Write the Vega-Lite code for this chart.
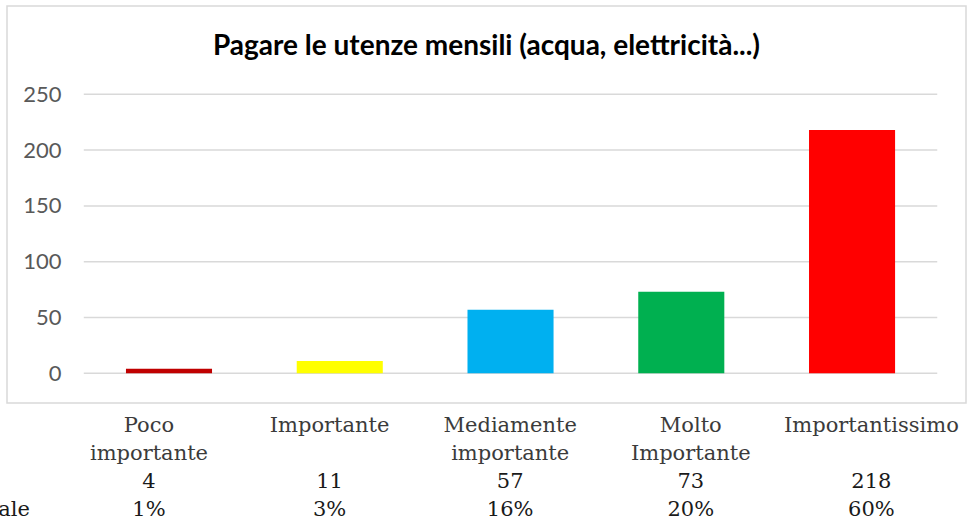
{
  "$schema": "https://vega.github.io/schema/vega-lite/v6.json",
  "autosize": {"type": "none"},
  "padding": {"left": 7, "top": 6, "right": 4, "bottom": 120},
  "width": 959,
  "height": 397,
  "background": "white",
  "config": {"view": {"stroke": "#d9d9d9", "strokeWidth": 1.5}},
  "title": {
    "text": "Pagare le utenze mensili (acqua, elettricità...)",
    "font": "Lato",
    "fontWeight": "bold",
    "fontSize": 28,
    "color": "#000000",
    "anchor": "middle",
    "baseline": "alphabetic",
    "offset": -77
  },
  "datasets": {
    "resp": [
      {"cat": "Poco importante", "n": 4, "pct": "1%"},
      {"cat": "Importante", "n": 11, "pct": "3%"},
      {"cat": "Mediamente importante", "n": 57, "pct": "16%"},
      {"cat": "Molto Importante", "n": 73, "pct": "20%"},
      {"cat": "Importantissimo", "n": 218, "pct": "60%"}
    ],
    "grid": [{"v": 0}, {"v": 50}, {"v": 100}, {"v": 150}, {"v": 200}, {"v": 250}],
    "header": [{"h": "Percentuale"}]
  },
  "data": {"name": "resp"},
  "resolve": {"scale": {"y": "independent", "x": "independent"}, "axis": {"y": "independent"}},
  "layer": [
    {
      "data": {"name": "grid"},
      "mark": {"type": "rule", "color": "#d9d9d9", "strokeWidth": 1.5},
      "encoding": {
        "x": {
          "datum": "Poco importante", "type": "nominal", "bandPosition": -0.49, "axis": null,
          "scale": {
            "type": "band",
            "domain": ["Poco importante", "Importante", "Mediamente importante", "Molto Importante", "Importantissimo"],
            "paddingInner": 0.496, "paddingOuter": 0.556, "align": 0.6265
          }
        },
        "x2": {"datum": "Importantissimo", "bandPosition": 1.49},
        "y": {"field": "v", "type": "quantitative", "scale": {"domain": [-26.6, 329.1], "nice": false, "zero": false}, "axis": null}
      }
    },
    {
      "mark": {"type": "bar"},
      "encoding": {
        "x": {
          "field": "cat", "type": "nominal", "axis": null,
          "scale": {
            "type": "band",
            "domain": ["Poco importante", "Importante", "Mediamente importante", "Molto Importante", "Importantissimo"],
            "paddingInner": 0.496, "paddingOuter": 0.556, "align": 0.6265
          }
        },
        "y": {
          "field": "n", "type": "quantitative",
          "scale": {"domain": [-26.6, 329.1], "nice": false, "zero": false},
          "axis": {
            "orient": "left", "values": [0, 50, 100, 150, 200, 250], "grid": false, "domain": false,
            "ticks": false, "tickSize": 0, "labelPadding": 0, "offset": -54, "title": null,
            "labelFont": "Lato", "labelFontSize": 22, "labelColor": "#595959"
          }
        },
        "y2": {"datum": 0},
        "color": {
          "field": "cat", "type": "nominal", "legend": null,
          "scale": {
            "domain": ["Poco importante", "Importante", "Mediamente importante", "Molto Importante", "Importantissimo"],
            "range": ["#C00000", "#FFFF00", "#00B0F0", "#00B050", "#FF0000"]
          }
        }
      }
    },
    {
      "layer": [
        {
          "mark": {"type": "text", "font": "DejaVu Serif", "fontSize": 21, "color": "#3b3b3b", "lineBreak": " ", "lineHeight": 27.5, "baseline": "alphabetic", "align": "center"},
          "encoding": {
            "x": {
              "field": "cat", "type": "nominal", "axis": null,
              "scale": {
                "type": "band",
                "domain": ["Poco importante", "Importante", "Mediamente importante", "Molto Importante", "Importantissimo"],
                "paddingInner": 0, "paddingOuter": 0.155, "align": 0.923
              }
            },
            "y": {"datum": 1, "type": "quantitative", "axis": null, "scale": {"domain": [-14.214, -0.036], "reverse": true, "nice": false, "zero": false}},
            "text": {"field": "cat"}
          }
        },
        {
          "mark": {"type": "text", "font": "DejaVu Serif", "fontSize": 21, "color": "#1a1a1a", "baseline": "alphabetic", "align": "center"},
          "encoding": {
            "x": {"field": "cat", "type": "nominal", "axis": null},
            "y": {"datum": 3, "type": "quantitative", "axis": null},
            "text": {"field": "n", "type": "quantitative"}
          }
        },
        {
          "mark": {"type": "text", "font": "DejaVu Serif", "fontSize": 21, "color": "#1a1a1a", "baseline": "alphabetic", "align": "center"},
          "encoding": {
            "x": {"field": "cat", "type": "nominal", "axis": null},
            "y": {"datum": 4, "type": "quantitative", "axis": null},
            "text": {"field": "pct"}
          }
        },
        {
          "data": {"name": "header"},
          "mark": {"type": "text", "font": "DejaVu Serif", "fontSize": 21, "color": "#1a1a1a", "baseline": "alphabetic", "align": "right"},
          "encoding": {
            "x": {"datum": "Poco importante", "type": "nominal", "bandPosition": -0.159, "axis": null},
            "y": {"datum": 4, "type": "quantitative", "axis": null},
            "text": {"field": "h"}
          }
        }
      ]
    }
  ]
}
